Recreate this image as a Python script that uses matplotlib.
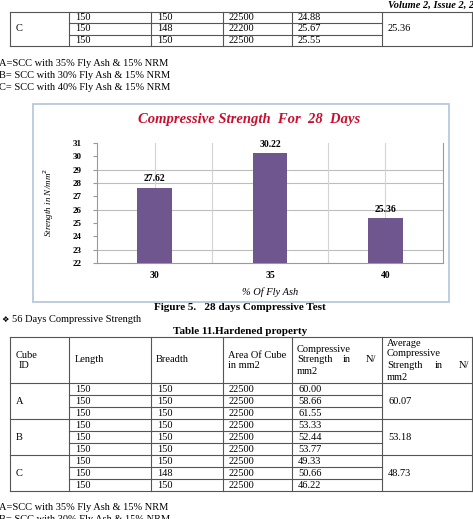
import matplotlib
matplotlib.use("Agg")
import matplotlib.pyplot as plt
from matplotlib.patches import Rectangle

# chart data
fly_ash = ["30", "35", "40"]
strength_28 = [27.62, 30.22, 25.36]
y_ticks = list(range(22, 32))
grid_levels = [23, 26, 28, 29]

# table 10 (tail, cube C)
t10_length = [150, 150, 150]
t10_breadth = [150, 148, 150]
t10_area = [22500, 22200, 22500]
t10_strength = ["24.88", "25.67", "25.55"]
t10_avg = "25.36"

# table 11, 56 days
t11_ids = ["A", "B", "C"]
t11_length = [[150, 150, 150], [150, 150, 150], [150, 150, 150]]
t11_breadth = [[150, 150, 150], [150, 150, 150], [150, 148, 150]]
t11_area = [[22500, 22500, 22500], [22500, 22500, 22500], [22500, 22500, 22500]]
t11_strength = [["60.00", "58.66", "61.55"], ["53.33", "52.44", "53.77"], ["49.33", "50.66", "46.22"]]
t11_avg = ["60.07", "53.18", "48.73"]

legend_lines = ["A=SCC with 35% Fly Ash & 15% NRM",
                "B= SCC with 30% Fly Ash & 15% NRM",
                "C= SCC with 40% Fly Ash & 15% NRM"]

W, H = 473, 519
serif = ["Liberation Serif", "DejaVu Serif"]
fig = plt.figure(figsize=(W / 100, H / 100), dpi=100)
pg = fig.add_axes([0, 0, 1, 1])
pg.set_xlim(0, W)
pg.set_ylim(H, 0)
pg.axis("off")

cols = [10, 69, 151, 223, 292, 382, 472]
line_kw = dict(color="#555555", lw=0.8)
fs = 7.5


def txt(x, y, s, **kw):
    kw.setdefault("family", serif)
    kw.setdefault("size", fs)
    kw.setdefault("va", "center")
    pg.text(x, y, s, **kw)


def draw_group(top, rh, gid, lengths, breadths, areas, strengths, avg):
    n = len(lengths)
    for i in range(n):
        yc = top + rh * (i + 0.5)
        for c, v in zip(cols[1:5], [lengths[i], breadths[i], areas[i], strengths[i]]):
            txt(c + 6, yc, str(v))
        if i > 0:
            pg.plot([cols[1], cols[5]], [top + rh * i] * 2, **line_kw)
    txt(cols[0] + 6, top + rh * n / 2, gid)
    txt(cols[5] + 6, top + rh * n / 2, avg)
    pg.plot([cols[0], cols[-1]], [top + rh * n] * 2, **line_kw)
    return top + rh * n


# running header, cut at the page edge as in the scan
txt(388, 5, "Volume 2, Issue 2, 2015", weight="bold", style="italic", size=7.5)

# table 10 tail
top = 12
pg.plot([cols[0], cols[-1]], [top, top], **line_kw)
bot = draw_group(top, 11.3, "C", t10_length, t10_breadth, t10_area, t10_strength, t10_avg)
for c in cols:
    pg.plot([c, c], [top, bot], **line_kw)

for i, s in enumerate(legend_lines):
    txt(-1, 63 + 12 * i, s)

# chart frame
pg.add_patch(Rectangle((33, 104), 416, 198, fill=False, ec="#b9c9dc", lw=1.3))
txt(249, 120, "Compressive Strength  For  28  Days", color="#c8102e",
    weight="bold", style="italic", size=10.5, ha="center")

ax = fig.add_axes([97 / W, 1 - 263 / H, 346 / W, 120 / H])
x = list(range(len(fly_ash)))
ax.bar(x, [v - 22 for v in strength_28], bottom=22, width=0.3, color="#6f568f", zorder=3)
ax.set_xlim(-0.5, len(fly_ash) - 0.5)
ax.set_ylim(22, 31)
ax.set_yticks(y_ticks)
ax.set_yticklabels([str(v) for v in y_ticks], family=serif, weight="bold", size=6.5)
ax.set_xticks(x)
ax.set_xticklabels(fly_ash, family=serif, weight="bold", size=7)
ax.tick_params(axis="y", length=3, color="#999999", pad=8)
ax.tick_params(axis="x", length=0, pad=6)
for g in grid_levels:
    ax.axhline(g, color="#bdbdbd", lw=0.8, zorder=1)
for xv in [0, 0.5, 1.5, 2]:
    ax.axvline(xv, color="#d4d4d4", lw=0.8, zorder=1)
for side in ["left", "right", "bottom"]:
    ax.spines[side].set_color("#9a9a9a")
    ax.spines[side].set_linewidth(0.8)
ax.spines["top"].set_visible(False)
for xi, v in zip(x, strength_28):
    ax.text(xi, v + 0.35, f"{v:.2f}", ha="center", va="bottom",
            family=serif, weight="bold", size=7)
ax.set_xlabel("% Of Fly Ash", family=serif, style="italic", size=7.5, labelpad=5)
ax.set_ylabel("Strength in N/mm$^2$", family=serif, style="italic", size=6.5, labelpad=12)

txt(240, 308, "Figure 5.   28 days Compressive Test", weight="bold", ha="center", size=8)
txt(1, 319, "\u2756", family=["DejaVu Sans"], size=6)
txt(12, 319, "56 Days Compressive Strength")
txt(240, 332, "Table 11.Hardened property", weight="bold", ha="center", size=8)

# table 11
top = 337
hdr_bot = 383
pg.plot([cols[0], cols[-1]], [top, top], **line_kw)
pg.plot([cols[0], cols[-1]], [hdr_bot, hdr_bot], **line_kw)
txt(16, 355, "Cube")
txt(19, 365, "ID")
txt(75, 360, "Length")
txt(156, 360, "Breadth")
txt(228, 355, "Area Of Cube")
txt(228, 365, "in mm2")
txt(297, 349, "Compressive")
txt(297, 360, "Strength")
txt(343, 360, "in")
txt(366, 360, "N/")
txt(297, 371, "mm2")
txt(387, 343, "Average")
txt(387, 354, "Compressive")
txt(387, 365, "Strength")
txt(435, 365, "in")
txt(459, 365, "N/")
txt(387, 377, "mm2")
y0 = hdr_bot
for gi in range(len(t11_ids)):
    y0 = draw_group(y0, 12, t11_ids[gi], t11_length[gi], t11_breadth[gi],
                    t11_area[gi], t11_strength[gi], t11_avg[gi])
for c in cols:
    pg.plot([c, c], [top, y0], **line_kw)

txt(-1, 508, legend_lines[0])
txt(-1, 520, legend_lines[1])

fig.savefig("out.png", dpi=100)
